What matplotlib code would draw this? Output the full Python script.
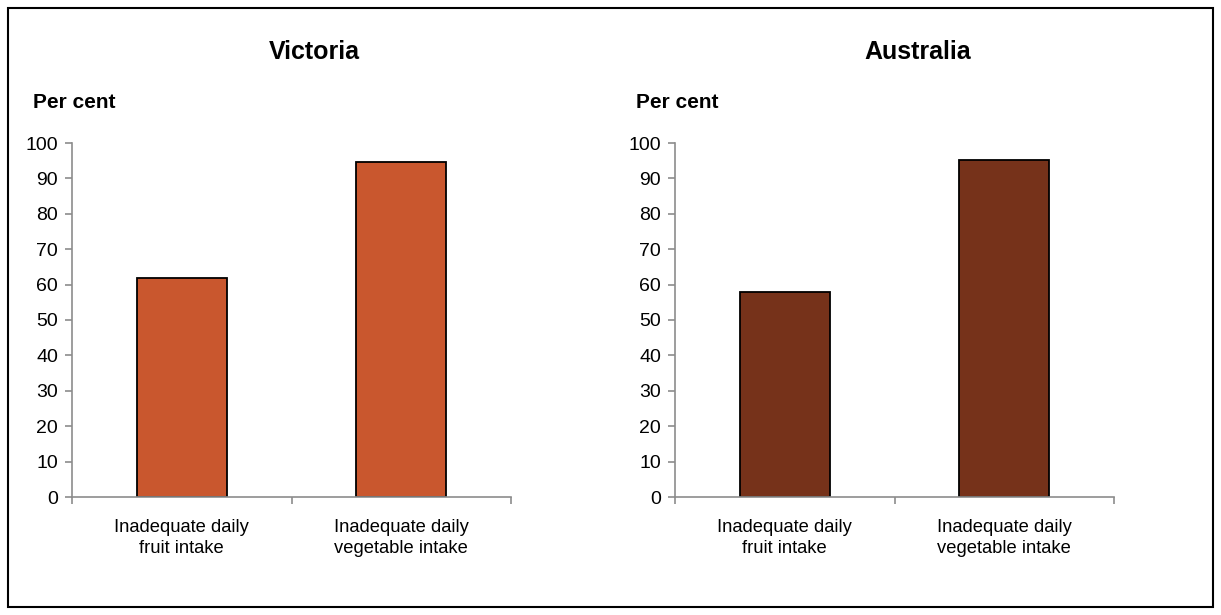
import matplotlib
matplotlib.use("Agg")
import matplotlib.pyplot as plt
from matplotlib.patches import Rectangle

plt.rcParams['font.family'] = ['Liberation Sans', 'DejaVu Sans']

# Data
categories = ['Inadequate daily\nfruit intake', 'Inadequate daily\nvegetable intake']
victoria = [62.0, 94.7]
australia = [58.0, 95.2]
panel_titles = ['Victoria', 'Australia']
colors = ['#C9572E', '#76321A']
y_ticks = list(range(0, 101, 10))

fig = plt.figure(figsize=(12.21, 6.15), dpi=100)

# Outer frame
fig.patches.append(Rectangle((8 / 1221, 8 / 615), 1205 / 1221, 599 / 615,
                             transform=fig.transFigure, fill=False,
                             edgecolor='black', linewidth=1.5))

axes_left = [72 / 1221, 675 / 1221]
title_x = [314 / 1221, 918 / 1221]
series = [victoria, australia]
axis_gray = '#8c8c8c'

for i in range(2):
    ax = fig.add_axes([axes_left[i], 118 / 615, 439 / 1221, 354 / 615])
    x = range(len(categories))
    ax.bar(x, series[i], width=0.41, color=colors[i], edgecolor='black', linewidth=1.3)
    ax.set_xlim(-0.5, 1.5)
    ax.set_ylim(0, 100)
    ax.set_yticks(y_ticks)
    ax.tick_params(axis='y', labelsize=14, length=5, color=axis_gray, width=1.2, pad=5)
    # category labels centered, ticks at category boundaries
    ax.set_xticks([-0.5, 0.5, 1.5])
    ax.set_xticklabels([])
    ax.set_xticks(list(x), minor=True)
    ax.set_xticklabels(categories, minor=True, fontsize=13.2, linespacing=1.3)
    ax.tick_params(axis='x', which='major', length=5, color=axis_gray, width=1.2)
    ax.tick_params(axis='x', which='minor', length=0, pad=16)
    for s in ['top', 'right']:
        ax.spines[s].set_visible(False)
    for s in ['left', 'bottom']:
        ax.spines[s].set_color(axis_gray)
        ax.spines[s].set_linewidth(1.2)
    fig.text(title_x[i], 1 - 52 / 615, panel_titles[i], ha='center', va='center',
             fontsize=18, fontweight='bold')
    fig.text((axes_left[i] * 1221 - 39) / 1221, 1 - 103 / 615, 'Per cent',
             ha='left', va='center', fontsize=15, fontweight='bold')

plt.savefig('out.png', dpi=100)
